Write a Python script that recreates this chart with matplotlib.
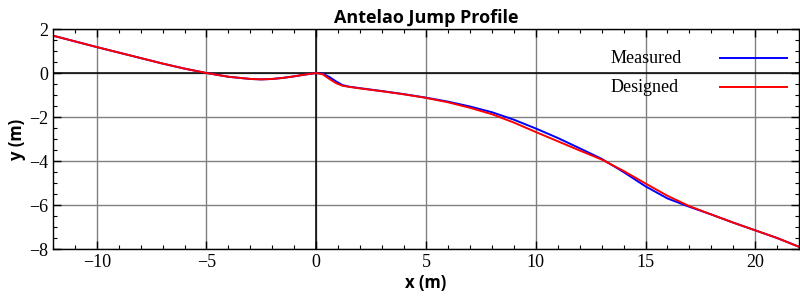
import matplotlib.pyplot as plt
import numpy as np
from matplotlib.ticker import MultipleLocator

# profile points (x in m, y in m)
x_designed = [-12, -11, -10, -9, -8, -7, -6, -5, -4, -3, -2.5, -2, -1.5, -1, -0.5, 0,
              0.3, 0.6, 0.9, 1.2, 1.5, 2, 3, 4, 5, 6, 7, 8, 9, 10, 11, 12, 13,
              14, 15, 16, 17, 18, 19, 20, 21, 22]
y_designed = [1.7, 1.44, 1.18, 0.93, 0.68, 0.43, 0.2, 0.0, -0.17, -0.27, -0.29, -0.27,
              -0.22, -0.15, -0.07, 0.0, -0.06, -0.27, -0.46, -0.58, -0.63, -0.7, -0.83,
              -0.97, -1.13, -1.33, -1.58, -1.87, -2.25, -2.68, -3.1, -3.52, -3.93,
              -4.45, -5.02, -5.58, -6.05, -6.43, -6.8, -7.15, -7.5, -7.9]

x_measured = x_designed
y_measured = [1.7, 1.44, 1.18, 0.93, 0.68, 0.43, 0.2, 0.0, -0.17, -0.27, -0.29, -0.27,
              -0.22, -0.15, -0.07, 0.0, -0.03, -0.18, -0.38, -0.55, -0.62, -0.69, -0.82,
              -0.96, -1.12, -1.3, -1.52, -1.78, -2.12, -2.52, -2.95, -3.42, -3.9,
              -4.5, -5.15, -5.7, -6.08, -6.43, -6.8, -7.15, -7.5, -7.9]

labels = ['Measured', 'Designed']
colors = ['blue', 'red']

fig = plt.figure(figsize=(8, 2.99), dpi=100)
ax = fig.add_axes([0.066, 0.167, 0.933, 0.736])

ax.plot(x_measured, y_measured, color=colors[0], lw=1.4)
ax.plot(x_designed, y_designed, color=colors[1], lw=1.4)

ax.axhline(0, color='black', lw=1.1, zorder=1)
ax.axvline(0, color='black', lw=1.1, zorder=1)

ax.set_xlim(-12, 22)
ax.set_ylim(-8, 2)
ax.xaxis.set_major_locator(MultipleLocator(5))
ax.xaxis.set_minor_locator(MultipleLocator(1))
ax.yaxis.set_major_locator(MultipleLocator(2))
ax.yaxis.set_minor_locator(MultipleLocator(0.5))
ax.grid(True, which='major', color='#808080', lw=1)
ax.set_axisbelow(True)
ax.tick_params(which='both', direction='in', top=True, right=True)
ax.tick_params(which='major', length=6, width=1)
ax.tick_params(which='minor', length=3, width=0.8)
for s in ax.spines.values():
    s.set_linewidth(1)

ax.set_xticklabels([f'{v:g}'.replace('-', '\u2212') for v in ax.get_xticks()])
ax.set_yticklabels([f'{v:g}'.replace('-', '\u2212') for v in ax.get_yticks()])
for lab in ax.get_xticklabels() + ax.get_yticklabels():
    lab.set_family('Liberation Serif')
    lab.set_fontsize(13)

ax.set_title('Antelao Jump Profile', fontsize=13, fontweight='bold', family='Open Sans', pad=4)
ax.set_xlabel('x (m)', fontsize=12, fontweight='bold', family='Open Sans', labelpad=2)
ax.set_ylabel('y (m)', fontsize=12, fontweight='bold', family='Open Sans', labelpad=2)

# legend: left-aligned text with line sample on the right
for i, (lab, col) in enumerate(zip(labels, colors)):
    yy = 0.868 - i * 0.132
    ax.text(0.747, yy, lab, transform=ax.transAxes, family='Liberation Serif',
            fontsize=13, va='center', ha='left')
    ax.plot([0.894, 0.983], [yy, yy], transform=ax.transAxes, color=col, lw=1.4)

fig.savefig('out.png', dpi=100)
